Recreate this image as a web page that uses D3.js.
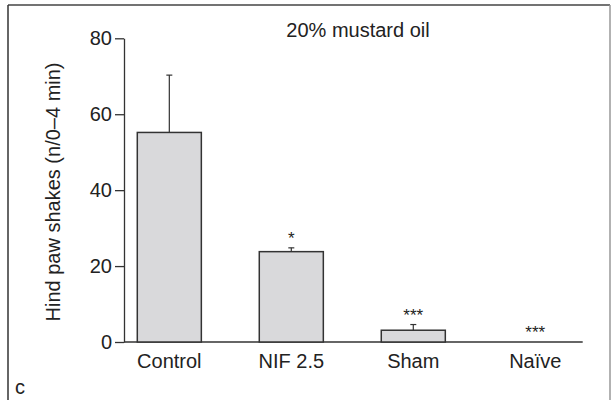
<!DOCTYPE html>
<html>
<head>
<meta charset="utf-8">
<script src="https://cdn.jsdelivr.net/npm/d3@7"></script>
<style>
  body { margin: 0; background: #fff; }
  svg text { font-family: "Liberation Sans", Arial, sans-serif; fill: #222; }
</style>
</head>
<body>
<svg id="chart" width="611" height="400"></svg>
<script>
// data
var categories = ['Control', 'NIF 2.5', 'Sham', 'Naïve'];
var means = [55.2, 23.8, 3.1, 0];
var sems = [15.1, 1.0, 1.5, 0];
var stars = ['', '*', '***', '***'];
var yTicks = [0, 20, 40, 60, 80];

var svg = d3.select('#chart');

// panel frame
svg.append('line').attr('x1', 8).attr('x2', 610).attr('y1', 5).attr('y2', 5)
    .attr('stroke', '#444').attr('stroke-width', 1.5);
svg.append('line').attr('x1', 8).attr('x2', 8).attr('y1', 5).attr('y2', 400)
    .attr('stroke', '#333').attr('stroke-width', 1.5);
svg.append('line').attr('x1', 610).attr('x2', 610).attr('y1', 5).attr('y2', 400)
    .attr('stroke', '#999').attr('stroke-width', 1.5);

var x = d3.scaleBand()
    .domain(categories)
    .range([124, 580.6])
    .paddingInner(0.475)
    .paddingOuter(0.109);

var y = d3.scaleLinear().domain([0, 80]).range([342, 38.3]);

// y axis
var yAxis = svg.append('g')
    .attr('transform', 'translate(124,0)')
    .call(d3.axisLeft(y).tickValues(yTicks).tickSize(9).tickPadding(3).tickSizeOuter(0));
yAxis.select('.domain').attr('stroke', '#333').attr('stroke-width', 1.3);
yAxis.selectAll('.tick line').attr('stroke', '#333').attr('stroke-width', 1.3);
yAxis.selectAll('.tick text')
    .attr('font-size', 20).attr('fill', '#222')
    .attr('font-family', '"Liberation Sans", Arial, sans-serif');

// x axis baseline
svg.append('line')
    .attr('x1', 124).attr('x2', 582.7)
    .attr('y1', y(0)).attr('y2', y(0))
    .attr('stroke', '#333').attr('stroke-width', 1.3);

// bars
svg.selectAll('rect.bar')
    .data(categories.filter(function (c, i) { return means[i] > 0; }))
    .enter().append('rect')
    .attr('class', 'bar')
    .attr('x', function (d) { return x(d); })
    .attr('width', x.bandwidth())
    .attr('y', function (d) { return y(means[categories.indexOf(d)]); })
    .attr('height', function (d) { return y(0) - y(means[categories.indexOf(d)]); })
    .attr('fill', '#d9d9db')
    .attr('stroke', '#333')
    .attr('stroke-width', 1.5);

// error bars
categories.forEach(function (c, i) {
    if (sems[i] <= 0) return;
    var cx = x(c) + x.bandwidth() / 2;
    svg.append('line')
        .attr('x1', cx).attr('x2', cx)
        .attr('y1', y(means[i])).attr('y2', y(means[i] + sems[i]))
        .attr('stroke', '#333').attr('stroke-width', 1.2);
    svg.append('line')
        .attr('x1', cx - 3).attr('x2', cx + 3)
        .attr('y1', y(means[i] + sems[i])).attr('y2', y(means[i] + sems[i]))
        .attr('stroke', '#333').attr('stroke-width', 1.2);
});

// significance stars
svg.selectAll('text.star')
    .data(categories)
    .enter().append('text')
    .attr('class', 'star')
    .attr('x', function (d) { return x(d) + x.bandwidth() / 2; })
    .attr('y', function (d, i) { return y(means[i] + sems[i]) - 4; })
    .attr('text-anchor', 'middle')
    .attr('font-size', 17)
    .text(function (d, i) { return stars[i]; });

// category labels
svg.selectAll('text.cat')
    .data(categories)
    .enter().append('text')
    .attr('class', 'cat')
    .attr('x', function (d) { return x(d) + x.bandwidth() / 2; })
    .attr('y', 368.3)
    .attr('text-anchor', 'middle')
    .attr('font-size', 20)
    .text(function (d) { return d; });

// title
svg.append('text')
    .attr('x', 358).attr('y', 37.3)
    .attr('text-anchor', 'middle')
    .attr('font-size', 20)
    .text('20% mustard oil');

// y label
svg.append('text')
    .attr('transform', 'translate(60,192) rotate(-90)')
    .attr('text-anchor', 'middle')
    .attr('font-size', 20)
    .text('Hind paw shakes (n/0\u20134 min)');

// panel letter
svg.append('text')
    .attr('x', 15).attr('y', 394)
    .attr('font-size', 20)
    .text('c');
</script>
</body>
</html>
